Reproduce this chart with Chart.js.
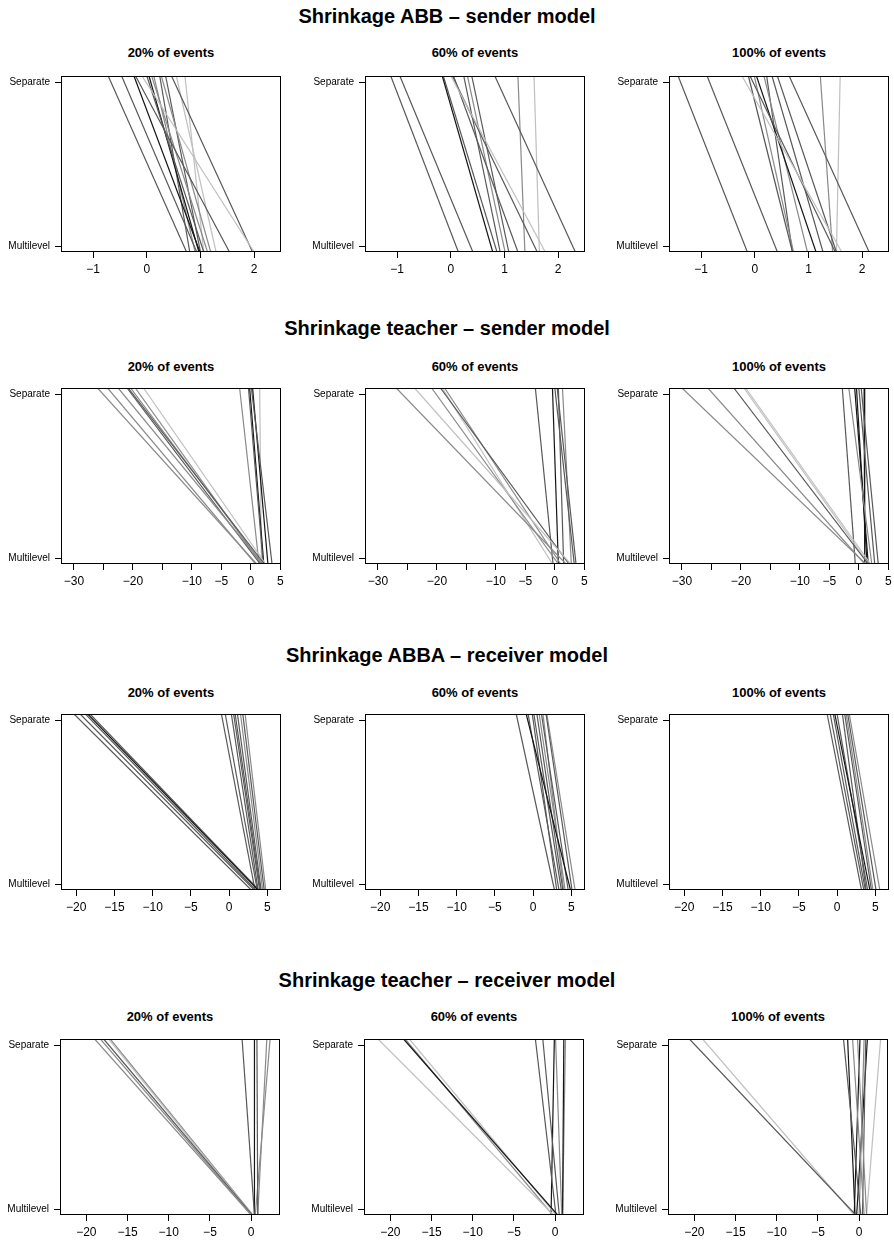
<!DOCTYPE html>
<html>
<head>
<meta charset="utf-8">
<script src="https://cdn.jsdelivr.net/npm/chart.js@4.4.1/dist/chart.umd.min.js"></script>
<style>
  html, body { margin: 0; padding: 0; background: #fff; }
  body { width: 894px; height: 1243px; position: relative; overflow: hidden;
         font-family: "Liberation Sans", Arial, Helvetica, sans-serif; color: #000; }
  .main { position: absolute; left: 0; width: 894px; text-align: center;
          font-weight: bold; font-size: 20px; line-height: 24px; white-space: nowrap; }
  .sub { position: absolute; text-align: center; font-weight: bold;
         font-size: 13px; line-height: 16px; white-space: nowrap; }
  canvas { position: absolute; }
</style>
</head>
<body>
<script>
// ---- Labels ----
const modelTitles = [
  'Shrinkage ABB \u2013 sender model',
  'Shrinkage teacher \u2013 sender model',
  'Shrinkage ABBA \u2013 receiver model',
  'Shrinkage teacher \u2013 receiver model'
];
const eventShares = ['20% of events', '60% of events', '100% of events'];
const methods = ['Multilevel', 'Separate'];

// ---- X axis ticks per model ----
const abbSenderTicks = [-1, 0, 1, 2];
const abbSenderTickLabels = ['\u22121', '0', '1', '2'];
const teacherSenderTicks = [-30, -25, -20, -15, -10, -5, 0, 5];
const teacherSenderTickLabels = ['\u221230', '', '\u221220', '', '\u221210', '\u22125', '0', '5'];
const abbaReceiverTicks = [-20, -15, -10, -5, 0, 5];
const abbaReceiverTickLabels = ['\u221220', '\u221215', '\u221210', '\u22125', '0', '5'];
const teacherReceiverTicks = [-20, -15, -10, -5, 0];
const teacherReceiverTickLabels = ['\u221220', '\u221215', '\u221210', '\u22125', '0'];

// ---- Estimates: separate fit (top) vs multilevel fit (bottom); tone = grey group ----
// Shrinkage ABB, sender model
const abbSender20Sep   = [-0.72, -0.47, -0.24, -0.21, -0.09, 0.00, 0.04, 0.09, 0.13, 0.24, 0.27, 0.35, 0.46, 0.55, 0.71];
const abbSender20Multi = [ 0.74,  0.93,  0.99,  1.54,  2.00, 1.06, 0.97, 1.13, 0.90, 0.80, 1.19, 1.00, 1.97, 1.29, 1.06];
const abbSender20Tone  = [1, 1, 0, 1, 3, 1, 0, 2, 2, 1, 2, 1, 1, 3, 3];
const abbSender60Sep   = [-1.12, -0.95, -0.16, -0.14, 0.00, 0.03, 0.05, 0.24, 0.31, 0.39, 0.82, 1.25, 1.55];
const abbSender60Multi = [ 0.14,  0.41,  0.78,  0.86, 1.76, 1.61, 1.25, 0.92, 1.01, 1.08, 2.32, 1.38, 1.65];
const abbSender60Tone  = [1, 1, 0, 1, 3, 1, 1, 1, 2, 1, 1, 2, 3];
const abbSender100Sep   = [-1.43, -0.89, -0.24, -0.12, -0.09, -0.01, 0.03, 0.17, 0.22, 0.32, 0.42, 0.64, 1.22, 1.59];
const abbSender100Multi = [-0.14,  0.42,  1.62,  0.70,  1.50,  0.72, 1.14, 0.98, 0.70, 1.27, 1.52, 2.13, 1.45, 1.52];
const abbSender100Tone  = [1, 1, 3, 1, 1, 2, 0, 2, 1, 1, 1, 1, 2, 3];

// Shrinkage teacher, sender model
const teacherSender20Sep   = [-26.0, -24.3, -22.5, -21.0, -20.8, -20.4, -19.6, -18.2, -1.9, -0.4, -0.2, 0.1, 0.3, 1.5];
const teacherSender20Multi = [  1.0,   0.8,   2.0,   1.6,   2.3,   2.0,   1.8,   2.5,  1.4,  2.1,  2.2, 3.6, 2.9, 1.8];
const teacherSender20Tone  = [2, 2, 2, 1, 1, 2, 2, 3, 2, 1, 0, 1, 0, 3];
const teacherSender60Sep   = [-26.9, -23.8, -20.9, -19.4, -19.1, -18.7, -3.3, -0.4, 0.0, 0.4, 0.6, 1.3];
const teacherSender60Multi = [  1.9,   2.7,   0.6,   2.4,  -0.4,   1.0, -0.3,  0.6, 3.3, 3.6, 1.5, 2.8];
const teacherSender60Tone  = [2, 3, 2, 1, 3, 2, 1, 0, 1, 1, 1, 2];
const teacherSender100Sep   = [-30.0, -25.6, -21.2, -19.5, -19.2, -2.8, -1.7, -0.7, -0.4, 0.0, 0.4, 0.9];
const teacherSender100Multi = [  1.2,   1.0,   1.6,   1.7,   2.0, -0.6,  2.2,  1.6,  1.4, 2.7, 3.3, 1.0];
const teacherSender100Tone  = [2, 2, 1, 3, 3, 1, 2, 0, 0, 1, 1, 0];

// Shrinkage ABBA, receiver model
const abbaReceiver20Sep   = [-20.3, -19.5, -18.8, -18.5, -18.2, -1.0, -0.5, 0.3, 0.6, 0.8, 1.1, 1.5, 1.8, 2.1];
const abbaReceiver20Multi = [  2.9,   3.3,   3.5,   3.8,   3.9,  3.4,  3.7, 3.8, 4.0, 4.1, 4.2, 4.4, 4.6, 4.8];
const abbaReceiver20Tone  = [1, 1, 1, 0, 1, 1, 1, 1, 1, 1, 1, 2, 1, 2];
const abbaReceiver60Sep   = [-2.2, -0.9, -0.65, -0.1, 0.1, 0.5, 0.8, 1.1, 1.3, 1.7, 1.8];
const abbaReceiver60Multi = [ 2.8,  4.9,  3.4,   3.1, 3.7, 3.9, 4.2, 4.6, 4.0, 5.1, 5.5];
const abbaReceiver60Tone  = [1, 0, 1, 1, 1, 1, 2, 1, 2, 1, 2];
const abbaReceiver100Sep   = [-1.3, -0.9, -0.5, -0.3, 0.0, 0.7, 1.0, 1.2, 1.4, 1.6];
const abbaReceiver100Multi = [ 3.2,  3.5,  3.7,  4.3, 4.0, 3.8, 4.5, 4.7, 5.1, 5.6];
const abbaReceiver100Tone  = [1, 1, 1, 0, 1, 1, 1, 2, 1, 2];

// Shrinkage teacher, receiver model
const teacherReceiver20Sep   = [-19.0, -18.3, -17.9, -17.3, -17.1, -1.1, 0.4, 0.7, 1.9, 2.3];
const teacherReceiver20Multi = [  0.0,   0.0,   0.1,   0.1,   0.2,  0.4, 0.4, 0.8, 0.8, 0.5];
const teacherReceiver20Tone  = [2, 2, 1, 3, 2, 1, 0, 1, 2, 2];
const teacherReceiver60Sep   = [-21.5, -18.4, -18.2, -17.7, -2.4, -1.5, -0.1, 0.05, 1.05, 1.25];
const teacherReceiver60Multi = [ -0.2,   0.3,  -0.3,   0.1,  0.1,  0.5, -0.5, 0.8,  0.9,  0.9];
const teacherReceiver60Tone  = [3, 0, 2, 3, 1, 1, 0, 2, 0, 2];
const teacherReceiver100Sep   = [-20.6, -19.0, -1.9, -1.4, -0.8, -0.2, 0.1, 0.6, 0.8, 1.0, 2.6];
const teacherReceiver100Multi = [ -0.4,  -0.6,  0.2, -0.5,  0.6,  0.9, -0.6, 0.0, 0.4, -0.3, 0.9];
const teacherReceiver100Tone  = [1, 3, 1, 0, 2, 2, 0, 2, 1, 0, 3];

// ---- Styling and layout ----
const tonePalette = ['#151515', '#585858', '#8a8a8a', '#c0c0c0'];
Chart.defaults.font.family = '"Liberation Sans", Arial, Helvetica, sans-serif';
Chart.defaults.color = '#000';

const rows = [
  { title: modelTitles[0], xRange: [-1.60, 2.50], ticks: abbSenderTicks, tickLabels: abbSenderTickLabels,
    panels: [[abbSender20Sep, abbSender20Multi, abbSender20Tone],
             [abbSender60Sep, abbSender60Multi, abbSender60Tone],
             [abbSender100Sep, abbSender100Multi, abbSender100Tone]],
    titleY: 16, subY: 53, boxTop: 76, lefts: [61, 365, 669] },
  { title: modelTitles[1], xRange: [-32.2, 5.12], ticks: teacherSenderTicks, tickLabels: teacherSenderTickLabels,
    panels: [[teacherSender20Sep, teacherSender20Multi, teacherSender20Tone],
             [teacherSender60Sep, teacherSender60Multi, teacherSender60Tone],
             [teacherSender100Sep, teacherSender100Multi, teacherSender100Tone]],
    titleY: 328, subY: 366.5, boxTop: 388, lefts: [61, 365, 669] },
  { title: modelTitles[2], xRange: [-22.0, 6.8], ticks: abbaReceiverTicks, tickLabels: abbaReceiverTickLabels,
    panels: [[abbaReceiver20Sep, abbaReceiver20Multi, abbaReceiver20Tone],
             [abbaReceiver60Sep, abbaReceiver60Multi, abbaReceiver60Tone],
             [abbaReceiver100Sep, abbaReceiver100Multi, abbaReceiver100Tone]],
    titleY: 655, subY: 692.5, boxTop: 714, lefts: [61, 365, 669] },
  { title: modelTitles[3], xRange: [-23.2, 3.5], ticks: teacherReceiverTicks, tickLabels: teacherReceiverTickLabels,
    panels: [[teacherReceiver20Sep, teacherReceiver20Multi, teacherReceiver20Tone],
             [teacherReceiver60Sep, teacherReceiver60Multi, teacherReceiver60Tone],
             [teacherReceiver100Sep, teacherReceiver100Multi, teacherReceiver100Tone]],
    titleY: 980, subY: 1017, boxTop: 1039, lefts: [60, 364, 668] }
];

const BOX_W = 220, BOX_H = 176, Y_AXIS_W = 61, X_AXIS_H = 34, PAD = 4;

// Frame around each plotting region
const framePlugin = {
  id: 'frame',
  afterDraw(chart) {
    const a = chart.chartArea, ctx = chart.ctx;
    ctx.save();
    ctx.strokeStyle = '#000';
    ctx.lineWidth = 1;
    ctx.strokeRect(a.left + 0.5, a.top + 0.5, a.right - a.left - 1, a.bottom - a.top - 1);
    ctx.restore();
  }
};

function addText(cls, text, left, top, width) {
  const d = document.createElement('div');
  d.className = cls;
  d.textContent = text;
  d.style.top = top + 'px';
  if (left !== null) { d.style.left = left + 'px'; d.style.width = width + 'px'; }
  document.body.appendChild(d);
}

rows.forEach(row => {
  addText('main', row.title, null, row.titleY - 12, null);
  row.panels.forEach((p, c) => {
    const [sep, multi, tone] = p;
    const boxL = row.lefts[c];
    addText('sub', eventShares[c], boxL, row.subY - 8, BOX_W);

    const cv = document.createElement('canvas');
    const W = Y_AXIS_W + BOX_W + PAD, H = PAD + BOX_H + X_AXIS_H;
    cv.width = W; cv.height = H;
    cv.style.width = W + 'px'; cv.style.height = H + 'px';
    cv.style.left = (boxL - Y_AXIS_W) + 'px';
    cv.style.top = (row.boxTop - PAD) + 'px';
    document.body.appendChild(cv);

    new Chart(cv, {
      type: 'scatter',
      data: {
        datasets: sep.map((s, i) => ({
          data: [{ x: s, y: 1 }, { x: multi[i], y: 0 }],
          showLine: true,
          borderColor: tonePalette[tone[i]],
          borderWidth: 1.2,
          pointRadius: 0,
          fill: false
        }))
      },
      options: {
        responsive: false,
        animation: false,
        devicePixelRatio: 1,
        events: [],
        layout: { padding: { top: PAD, right: PAD, left: 0, bottom: 0 } },
        plugins: { legend: { display: false }, tooltip: { enabled: false }, title: { display: false } },
        scales: {
          x: {
            type: 'linear', bounds: 'data', min: row.xRange[0], max: row.xRange[1],
            afterBuildTicks: s => { s.ticks = row.ticks.map(v => ({ value: v })); },
            afterFit: s => { s.height = X_AXIS_H; s.paddingLeft = 0; s.paddingRight = 0; },
            grid: { drawOnChartArea: false, drawTicks: true, tickLength: 6, color: '#000', tickColor: '#000', lineWidth: 1 },
            border: { display: false },
            ticks: { autoSkip: false, maxRotation: 0, minRotation: 0, padding: 4, color: '#000',
                     font: { size: 12 }, callback: (v, i) => row.tickLabels[i] }
          },
          y: {
            type: 'linear', bounds: 'data', min: 0, max: 1,
            afterBuildTicks: s => { s.ticks = [{ value: 0.033 }, { value: 0.963 }]; },
            afterFit: s => { s.width = Y_AXIS_W; s.paddingTop = 0; s.paddingBottom = 0; },
            grid: { drawOnChartArea: false, drawTicks: true, tickLength: 6, color: '#000', tickColor: '#000', lineWidth: 1 },
            border: { display: false },
            ticks: { padding: 5, color: '#000', font: { size: 10 }, callback: (v, i) => methods[i] }
          }
        }
      },
      plugins: [framePlugin]
    });
  });
});
</script>
</body>
</html>
